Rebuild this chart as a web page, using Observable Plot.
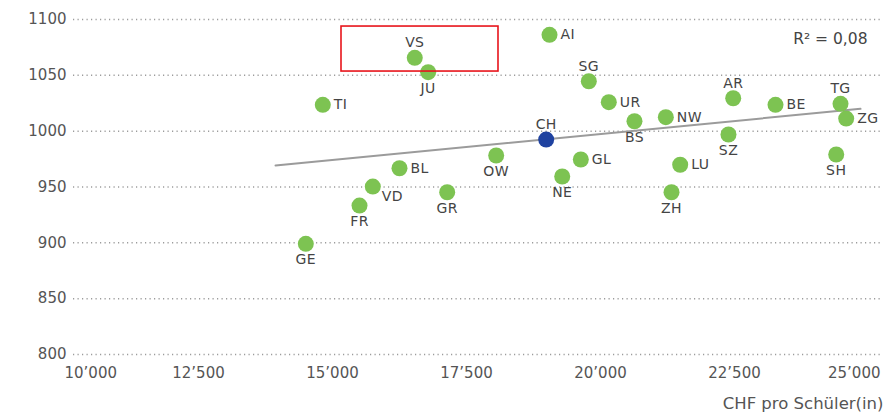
<!DOCTYPE html>
<html><head><meta charset="utf-8">
<script src="https://cdn.jsdelivr.net/npm/d3@7"></script>
<script src="https://cdn.jsdelivr.net/npm/@observablehq/plot@0.6"></script>
<style>
body{margin:0;background:#fff}
svg{display:block}
.ptlabel text{letter-spacing:0.4px}
</style>
</head><body><div id="chart"></div>
<script>
// Cantons: spending per pupil (CHF) vs. test score
const cantons  = ["VS","JU","TI","AI","SG","CH","BL","OW","GL","NE","VD","GR","UR","BS","NW","AR","SZ","BE","TG","ZG","SH","LU","ZH","FR","GE"];
const spending = [16535,16785,14819,19049,19782,18987,16250,18054,19633,19286,15752,17140,20155,20634,21219,22476,22388,23265,24478,24584,24398,21487,21325,15504,14502];
const scores   = [1065.7,1052.8,1023.6,1086.3,1044.7,992.5,966.8,978.2,974.6,959.4,950.4,945.3,1026,1008.9,1012.5,1029.5,997,1023.6,1024.5,1011.3,979.1,969.9,945.3,933.4,899.1];
const labelSide = ["top","bottom","right","right","top","top","right","bottom","right","bottom","rightlow","bottom","right","bottom","right","top","bottom","right","top","right","bottom","right","bottom","bottom","bottom"];
const highlighted = "CH";
const xTicks = [10000,12500,15000,17500,20000,22500,25000];
const yTicks = [800,850,900,950,1000,1050,1100];
const trendX = [13937, 24851];
const trendY = [969.3, 1020];
const boxX = [15168, 18097];
const boxY = [1053.4, 1093.7];
const r2Label = "R² = 0,08";
const xTitle = "CHF pro Schüler(in)";

const data = cantons.map((c, i) => ({name: c, x: spending[i], y: scores[i], side: labelSide[i]}));
const trend = trendX.map((x, i) => ({x, y: trendY[i]}));
const box = [{x1: boxX[0], x2: boxX[1], y1: boxY[0], y2: boxY[1]}];
const fmt = d => d3.format(",")(d).replace(",", "’");

const green = "#7dc352", blue = "#1f42a0", ink = "#444", tick = "#555";
const font = {fontSize: 14, fill: ink, lineAnchor: "middle"};

const chart = Plot.plot({
  width: 885, height: 414,
  marginTop: 19, marginBottom: 60, marginLeft: 73, marginRight: 5,
  style: {fontFamily: "'DejaVu Sans', 'Noto Sans', sans-serif", background: "#fff"},
  x: {domain: [10168, 25224], axis: null},
  y: {domain: [800, 1100], axis: null},
  marks: [
    Plot.ruleY(yTicks, {stroke: "#9c9c9c", strokeWidth: 1.5, strokeDasharray: "1.2,3.3"}),
    Plot.text(yTicks, {y: d => d, frameAnchor: "left", textAnchor: "end", dx: -7, text: d => String(d), fontSize: 15, fill: tick, lineAnchor: "middle"}),
    Plot.text(xTicks.slice(1, -1), {x: d => d, frameAnchor: "bottom", dy: 19, text: fmt, fontSize: 15, fill: tick, lineAnchor: "middle"}),
    Plot.text(xTicks.slice(0, 1), {x: d => d, frameAnchor: "bottom", dy: 19, textAnchor: "start", text: fmt, fontSize: 15, fill: tick, lineAnchor: "middle"}),
    Plot.text(xTicks.slice(-1), {x: d => d, frameAnchor: "bottom", dy: 19, dx: 12, textAnchor: "end", text: fmt, fontSize: 15, fill: tick, lineAnchor: "middle"}),
    Plot.line(trend, {x: "x", y: "y", stroke: "#9b9b9b", strokeWidth: 2}),
    Plot.dot(data.filter(d => d.name !== highlighted), {x: "x", y: "y", r: 8, fill: green}),
    Plot.dot(data.filter(d => d.name === highlighted), {x: "x", y: "y", r: 8, fill: blue}),
    Plot.text(data.filter(d => d.side === "top"), {x: "x", y: "y", text: "name", dy: -15, className: "ptlabel", ...font}),
    Plot.text(data.filter(d => d.side === "bottom"), {x: "x", y: "y", text: "name", dy: 16, className: "ptlabel", ...font}),
    Plot.text(data.filter(d => d.side === "right"), {x: "x", y: "y", text: "name", dx: 11, textAnchor: "start", className: "ptlabel", ...font}),
    Plot.text(data.filter(d => d.side === "rightlow"), {x: "x", y: "y", text: "name", dx: 9, dy: 10, textAnchor: "start", className: "ptlabel", ...font}),
    Plot.rect(box, {x1: "x1", x2: "x2", y1: "y1", y2: "y2", fill: "none", stroke: "#e8141b", strokeWidth: 1.6}),
    Plot.text([r2Label], {frameAnchor: "top-right", text: d => d, dx: -13, dy: 19.5, textAnchor: "end", fontSize: 15.5, fill: ink, lineAnchor: "middle"}),
    Plot.text([xTitle], {frameAnchor: "bottom-right", text: d => d, dx: 3, dy: 49, textAnchor: "end", fontSize: 16.5, fill: tick, lineAnchor: "middle"})
  ]
});
document.getElementById("chart").appendChild(chart);
</script>
</body></html>
